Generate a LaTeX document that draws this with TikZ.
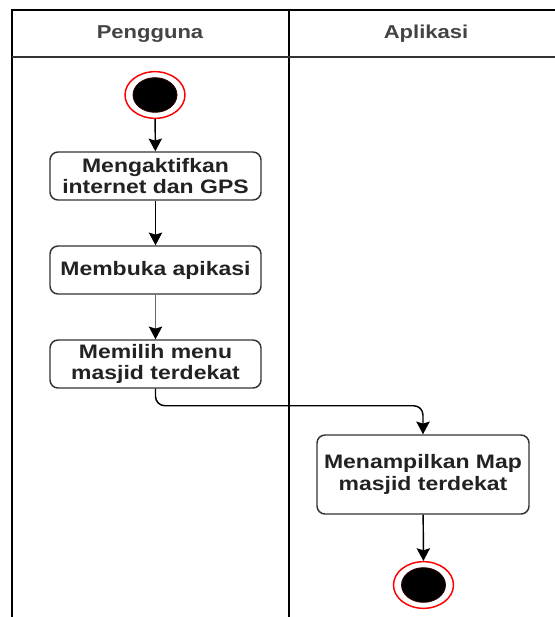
\documentclass[tikz,border=0pt]{standalone}
\usepackage{fontspec}
\setmainfont{Liberation Sans}[FakeStretch=1.18]
\usetikzlibrary{shapes.geometric,arrows.meta}
\definecolor{ink}{HTML}{222222}
\definecolor{rim}{HTML}{333333}
\tikzset{
  lane/.style={line width=1.5pt, black},
  lanehead/.style={font=\bfseries\fontsize{14pt}{16pt}\selectfont, text=ink!85!white},
  action/.style={draw=rim, line width=1.1pt, rounded corners=6pt, fill=white,
    align=center, text=ink, inner sep=2pt,
    font=\bfseries\fontsize{14.6pt}{16pt}\selectfont},
  ring/.style={ellipse, draw=red, line width=1.1pt, fill=white,
    minimum width=45pt, minimum height=35pt, inner sep=0pt},
  dot/.style={ellipse, fill=black, draw=black!80!red, line width=0.6pt,
    minimum width=33pt, minimum height=26pt, inner sep=0pt},
  flow/.style={line width=1.1pt, black,
    -{Stealth[length=9.5pt, width=10pt, inset=1.5pt, black]}},
}
\begin{document}
\begin{tikzpicture}[x=0.75pt, y=-0.75pt]
\useasboundingbox (0,0) rectangle (555,617);
% swimlane frame
\draw[lane] (12,617) -- (12,10) -- (563,10) -- (563,617);
\draw[lane] (289,10) -- (289,617);
\draw[line width=1.5pt, rim] (12,57) -- (563,57);
\node[lanehead] (hUser) at (150,34) {Pengguna};
\node[lanehead] (hApp) at (426,34) {Aplikasi};

% start node
\node[ring] (start) at (155,95) {};
\node[dot] at (start) {};

% actions
\node[action, minimum width=158.25pt, minimum height=36pt] (b1) at (155.5,176)
  {Mengaktifkan\\internet dan GPS};
\node[action, minimum width=158.25pt, minimum height=36pt] (b2) at (155.5,270)
  {Membuka apikasi};
\node[action, minimum width=158.25pt, minimum height=36pt] (b3) at (155.5,364)
  {Memilih menu\\masjid terdekat};
\node[action, minimum width=159pt, minimum height=59.25pt] (b4) at (423,474.5)
  {Menampilkan Map\\masjid terdekat};

% end node
\node[ring] (stop) at (423.5,585) {};
\node[dot] at (stop) {};

% flow
\draw[flow] (start) -- (b1);
\draw[flow] (b1) -- (b2);
\draw[flow, draw=black!60] (b2) -- (b3);
\draw[flow, rounded corners=7pt] (b3.south) -- ++(0,17) -| (b4.north);
\draw[flow] (b4) -- (stop);
\end{tikzpicture}
\end{document}
